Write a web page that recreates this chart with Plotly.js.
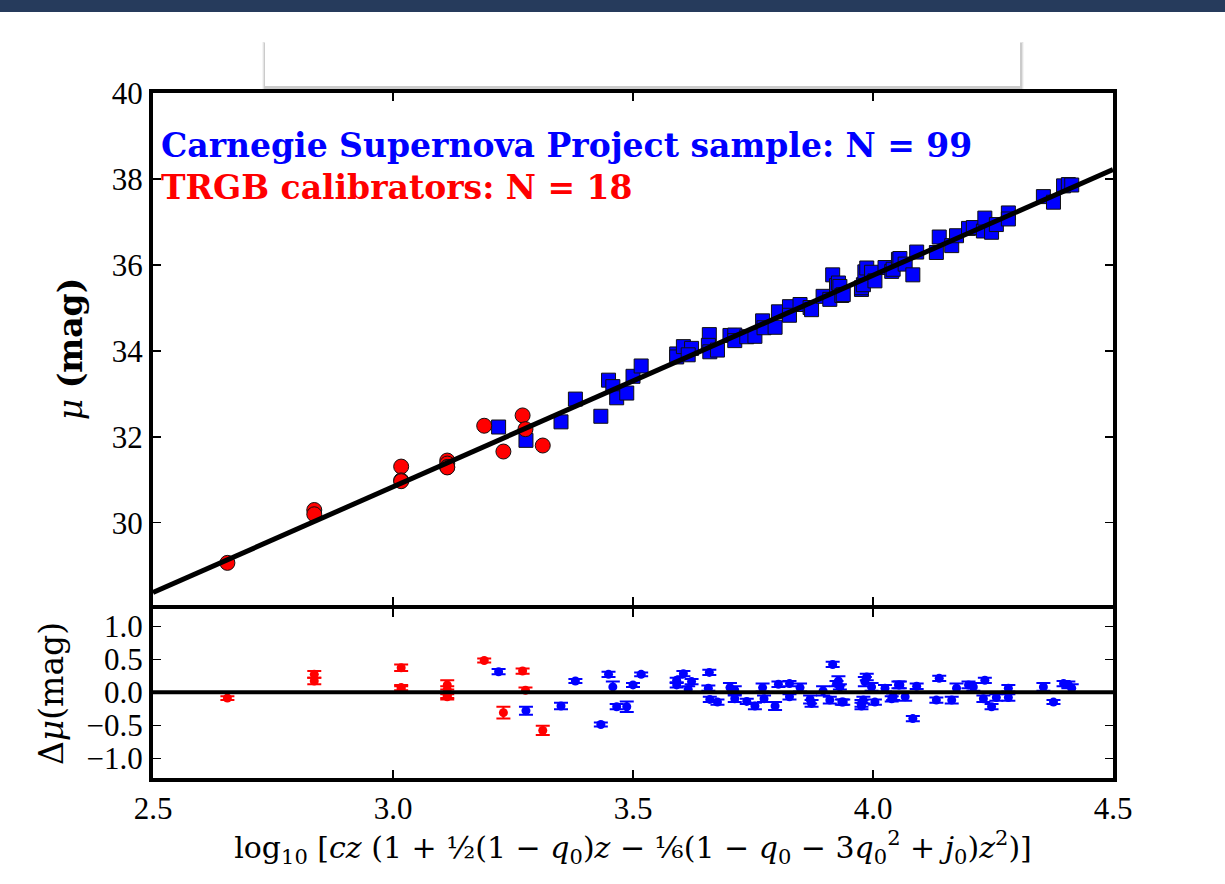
<!DOCTYPE html>
<html>
<head>
<meta charset="utf-8">
<script src="https://cdn.plot.ly/plotly-3.0.1.min.js"></script>
<style>
html,body{margin:0;padding:0;background:#fff;}
#chart{width:1225px;height:884px;}
</style>
</head>
<body>
<div id="chart"></div>
<script>
// ---- Carnegie Supernova Project sample (blue) ----
const blueX = [3.220,3.277,3.350,3.380,3.433,3.449,3.458,3.466,3.487,3.500,3.517,3.591,3.591,3.605,3.622,3.615,3.659,3.657,3.660,3.676,3.702,3.712,3.712,3.737,3.754,3.770,3.773,3.796,3.803,3.826,3.826,3.848,3.869,3.872,3.896,3.910,3.916,3.924,3.928,3.931,3.935,3.938,3.976,3.976,3.980,3.983,3.987,3.997,4.004,4.025,4.039,4.042,4.053,4.056,4.067,4.083,4.091,4.132,4.138,4.164,4.174,4.199,4.209,4.230,4.233,4.247,4.257,4.282,4.282,4.355,4.376,4.397,4.407,4.414];
const blueMu = [32.23,31.92,32.35,32.88,32.48,33.32,33.17,32.91,33.02,33.41,33.65,33.93,33.86,34.10,34.06,33.91,34.38,34.13,33.98,34.02,34.36,34.37,34.24,34.33,34.34,34.70,34.54,34.55,34.91,35.03,34.83,35.08,35.01,34.96,35.27,35.20,35.77,35.52,35.58,35.50,35.29,35.31,35.43,35.47,35.54,35.84,35.93,35.83,35.63,35.94,35.85,35.90,36.13,36.15,36.02,35.77,36.30,36.29,36.65,36.45,36.68,36.85,36.87,36.79,37.09,36.76,36.94,37.21,37.07,37.59,37.46,37.84,37.87,37.86];
const blueRes = [0.31,-0.28,-0.21,0.17,-0.49,0.27,0.08,-0.22,-0.22,0.11,0.27,0.18,0.11,0.28,0.16,0.04,0.30,0.06,-0.11,-0.15,0.07,0.03,-0.10,-0.14,-0.21,0.07,-0.10,-0.21,0.12,0.13,-0.07,0.07,-0.11,-0.17,0.02,-0.12,0.42,0.13,0.17,0.08,-0.15,-0.15,-0.21,-0.17,-0.12,0.16,0.23,0.08,-0.15,0.06,-0.10,-0.07,0.11,0.11,-0.07,-0.40,0.09,-0.12,0.21,-0.12,0.06,0.11,0.08,-0.10,0.18,-0.22,-0.08,0.06,-0.08,0.08,-0.15,0.13,0.11,0.06];
const blueErr = [0.04,0.06,0.05,0.03,0.03,0.04,0.08,0.04,0.08,0.03,0.03,0.04,0.04,0.04,0.04,0.05,0.04,0.04,0.04,0.04,0.07,0.06,0.05,0.04,0.05,0.06,0.05,0.06,0.04,0.04,0.04,0.06,0.06,0.05,0.07,0.05,0.04,0.04,0.07,0.04,0.04,0.04,0.05,0.05,0.05,0.07,0.05,0.06,0.04,0.05,0.04,0.05,0.05,0.05,0.06,0.04,0.04,0.04,0.04,0.05,0.07,0.05,0.06,0.05,0.04,0.04,0.05,0.05,0.05,0.06,0.03,0.04,0.05,0.06];

// ---- TRGB calibrators (red) ----
const redX = [2.655,2.836,2.836,3.017,3.017,3.017,3.113,3.113,3.113,3.113,3.190,3.230,3.270,3.276,3.312];
const redMu = [29.07,30.30,30.20,31.31,30.99,30.97,31.45,31.38,31.30,31.29,32.26,31.66,32.50,32.18,31.80];
const redRes = [-0.09,0.27,0.17,0.37,0.07,0.05,0.11,0.04,-0.05,-0.07,0.48,-0.31,0.32,0.03,-0.58];
const redErr = [0.03,0.05,0.05,0.05,0.04,0.04,0.07,0.05,0.04,0.04,0.03,0.09,0.04,0.04,0.07];

// ---- Fit line and zero line ----
const fitX = [2.5, 4.5];
const fitMu = [28.38, 38.22];
const zeroX = [2.5, 4.5];
const zeroY = [0, 0];

// ---- Ticks / labels ----
const xTicks = [2.5, 3.0, 3.5, 4.0, 4.5];
const muTicks = [30, 32, 34, 36, 38, 40];
const resTicks = [-1.0, -0.5, 0.0, 0.5, 1.0];
const labelCSP = 'Carnegie Supernova Project sample: N = 99';
const labelTRGB = 'TRGB calibrators: N = 18';

const BLUE = '#0000ff', RED = '#ff0000';
const FONT = 'Liberation Serif, DejaVu Serif, serif';
const WIDEFONT = 'DejaVu Serif, Liberation Serif, serif';

const traces = [
  {x: blueX, y: blueMu, type: 'scatter', mode: 'markers', xaxis: 'x', yaxis: 'y',
   marker: {symbol: 'square', size: 14, color: BLUE, line: {color: '#111', width: 1}}, hoverinfo: 'x+y'},
  {x: redX, y: redMu, type: 'scatter', mode: 'markers', xaxis: 'x', yaxis: 'y',
   marker: {symbol: 'circle', size: 15, color: RED, line: {color: '#111', width: 1}}, hoverinfo: 'x+y'},
  {x: fitX, y: fitMu, type: 'scatter', mode: 'lines', xaxis: 'x', yaxis: 'y',
   line: {color: '#000', width: 5}, hoverinfo: 'skip'},
  {x: blueX, y: blueRes, type: 'scatter', mode: 'markers', xaxis: 'x2', yaxis: 'y2',
   marker: {symbol: 'circle', size: 9, color: BLUE},
   error_y: {type: 'data', array: blueErr, visible: true, color: BLUE, thickness: 2, width: 7}, hoverinfo: 'x+y'},
  {x: redX, y: redRes, type: 'scatter', mode: 'markers', xaxis: 'x2', yaxis: 'y2',
   marker: {symbol: 'circle', size: 9, color: RED},
   error_y: {type: 'data', array: redErr, visible: true, color: RED, thickness: 2, width: 7}, hoverinfo: 'x+y'},
  {x: zeroX, y: zeroY, type: 'scatter', mode: 'lines', xaxis: 'x2', yaxis: 'y2',
   line: {color: '#000', width: 4}, hoverinfo: 'skip'}
];

const axisCommon = {
  showline: true, linecolor: '#000', linewidth: 4, mirror: 'allticks',
  ticks: 'inside', ticklen: 8, tickwidth: 1.2, tickcolor: '#000',
  showgrid: false, zeroline: false,
  tickfont: {family: FONT, size: 31, color: '#000'}
};

// page overlay decoration (pixel boxes converted to paper units)
const px2x = p => (p - 153) / 960;
const py2y = p => (778 - p) / 685;

const layout = {
  width: 1225, height: 884,
  margin: {l: 153, r: 112, t: 93, b: 106},
  paper_bgcolor: '#fff', plot_bgcolor: '#fff',
  showlegend: false,
  font: {family: FONT, color: '#000'},
  xaxis: Object.assign({}, axisCommon, {
    domain: [0, 1], anchor: 'y', matches: 'x2', range: [2.5, 4.5],
    tickvals: xTicks, showticklabels: false
  }),
  yaxis: Object.assign({}, axisCommon, {
    domain: [py2y(605), 1], anchor: 'x', range: [28.09, 40],
    tickvals: muTicks, tickformat: 'd',
    title: {text: '<i>μ</i> <b>(mag)</b>', font: {family: WIDEFONT, size: 33, color: '#000'}, standoff: 20}
  }),
  xaxis2: Object.assign({}, axisCommon, {
    domain: [0, 1], anchor: 'y2', range: [2.5, 4.5],
    tickvals: xTicks, tickformat: '.1f',
    title: {text: 'log<sub>10</sub> [<i>cz</i> (1 + ½(1 − <i>q</i><sub>0</sub>)<i>z</i> − ⅙(1 − <i>q</i><sub>0</sub> − 3<i>q</i><sub>0</sub><sup>2</sup> + <i>j</i><sub>0</sub>)<i>z</i><sup>2</sup>)]',
            font: {family: WIDEFONT, size: 30, color: '#000'}, standoff: 6}
  }),
  yaxis2: Object.assign({}, axisCommon, {
    domain: [0, py2y(609)], anchor: 'x2', range: [-1.3, 1.26],
    tickvals: resTicks, tickformat: '.1f',
    title: {text: 'Δ<i>μ</i>(mag)', font: {family: WIDEFONT, size: 33, color: '#000'}, standoff: 14}
  }),
  annotations: [
    {xref: 'paper', yref: 'paper', x: px2x(159), y: py2y(145), xanchor: 'left', yanchor: 'middle',
     text: '<b>' + labelCSP + '</b>', showarrow: false, font: {family: WIDEFONT, size: 33, color: BLUE}},
    {xref: 'paper', yref: 'paper', x: px2x(159), y: py2y(187), xanchor: 'left', yanchor: 'middle',
     text: '<b>' + labelTRGB + '</b>', showarrow: false, font: {family: WIDEFONT, size: 33, color: RED}}
  ],
  shapes: [
    // dark header bar of the page
    {type: 'rect', xref: 'paper', yref: 'paper', x0: px2x(0), x1: px2x(1225),
     y0: py2y(12), y1: py2y(0), fillcolor: '#263b5c', line: {width: 0}, layer: 'above'},
    // soft shadow of the overlaying white box
    {type: 'rect', xref: 'paper', yref: 'paper', x0: px2x(262), x1: px2x(1024),
     y0: py2y(93), y1: py2y(42), fillcolor: 'rgba(0,0,0,0.04)', line: {width: 0}, layer: 'above'},
    {type: 'rect', xref: 'paper', yref: 'paper', x0: px2x(263), x1: px2x(1023),
     y0: py2y(91), y1: py2y(42), fillcolor: 'rgba(0,0,0,0.07)', line: {width: 0}, layer: 'above'},
    {type: 'rect', xref: 'paper', yref: 'paper', x0: px2x(264), x1: px2x(1022),
     y0: py2y(89), y1: py2y(43), fillcolor: 'rgba(0,0,0,0.10)', line: {width: 0}, layer: 'above'},
    // white box
    {type: 'rect', xref: 'paper', yref: 'paper', x0: px2x(265), x1: px2x(1020),
     y0: py2y(86), y1: py2y(42), fillcolor: '#ffffff', line: {width: 0}, layer: 'above'}
  ]
};

Plotly.newPlot('chart', traces, layout, {displayModeBar: false, staticPlot: true});
</script>
</body>
</html>
